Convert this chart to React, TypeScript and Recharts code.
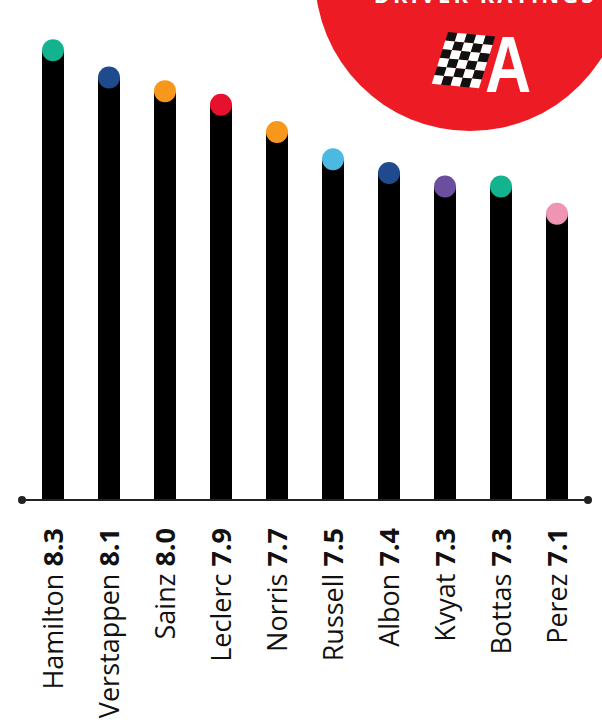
import React from "react";
import { BarChart, Bar, XAxis, YAxis } from "recharts";

const drivers = ["Hamilton", "Verstappen", "Sainz", "Leclerc", "Norris", "Russell", "Albon", "Kvyat", "Bottas", "Perez"];
const ratings = [8.3, 8.1, 8.0, 7.9, 7.7, 7.5, 7.4, 7.3, 7.3, 7.1];
const teamColors = ["#14b38f", "#1f4a8e", "#f7981d", "#e8112d", "#f7981d", "#4cb9e2", "#1f4a8e", "#6b4f9e", "#14b38f", "#f094b3"];

const data = drivers.map((name, i) => ({ name, rating: ratings[i], color: teamColors[i] }));

const W = 602;
const H = 724;
const BASE_Y = 500;

const Lollipop = (props: any) => {
  const { x, y, width, height, payload } = props;
  const cx = x + width / 2;
  const r = width / 2;
  const bottom = y + height;
  return (
    <g>
      <path
        d={`M${x},${y} L${x + width},${y} L${x + width},${bottom} A${r},${r} 0 0 1 ${x},${bottom} Z`}
        fill="#000"
      />
      <circle cx={cx} cy={y} r={r} fill={payload.color} />
    </g>
  );
};

const NameTick = (props: any) => {
  const { x, payload, index } = props;
  return (
    <g transform={`translate(${x},528)`}>
      <text
        transform="rotate(-90)"
        textAnchor="end"
        dy="0.36em"
        fontFamily="'Open Sans', sans-serif"
        fontSize={27}
        fill="#111"
      >
        {payload.value} <tspan fontWeight="bold">{ratings[index].toFixed(1)}</tspan>
      </text>
    </g>
  );
};

// checkered flag squares (col, row)
const flagCols = [0, 1, 2, 3, 4];
const flagRows = [0, 1, 2, 3, 4, 5];

const Badge = () => (
  <svg width={W} height={H} style={{ position: "absolute", left: 0, top: 0 }}>
    <circle cx={470} cy={-24} r={155} fill="#ed1c24" />
    <text x={485} y={3} textAnchor="middle" fill="#fff" fontFamily="'Open Sans', sans-serif" fontWeight="bold" fontSize={22} letterSpacing={3}>
      DRIVER RATINGS
    </text>
    <g transform="matrix(9.4 0.9 -2.7 8.6 448 32)">
      {flagRows.map((row) =>
        flagCols.map((col) => (
          <rect
            key={`${row}-${col}`}
            x={col}
            y={row}
            width={1.02}
            height={1.02}
            fill={(row + col) % 2 === 0 ? "#111" : "#fff"}
          />
        ))
      )}
    </g>
    <text
      transform="translate(508,92) scale(0.8,1)"
      textAnchor="middle"
      fill="#fff"
      fontFamily="'Liberation Sans', sans-serif"
      fontWeight="bold"
      fontSize={80}
    >
      A
    </text>
    <circle cx={22} cy={BASE_Y} r={4} fill="#222" />
    <circle cx={588} cy={BASE_Y} r={4} fill="#222" />
  </svg>
);

export default function App() {
  return (
    <div style={{ position: "absolute", left: 0, top: 0, width: W, height: H, background: "#fff" }}>
      <Badge />
      <div style={{ position: "absolute", left: 0, top: 0 }}>
        <BarChart width={W} height={H} data={data} margin={{ top: 23, right: 14, left: 22, bottom: 0 }} barSize={22}>
          <YAxis hide domain={[5, 8.5]} type="number" allowDataOverflow />
          <XAxis
            dataKey="name"
            interval={0}
            height={224}
            padding={{ left: 3, right: 3 }}
            axisLine={{ stroke: "#222", strokeWidth: 2 }}
            tickLine={false}
            tick={<NameTick />}
          />
          <Bar dataKey="rating" shape={<Lollipop />} isAnimationActive={false} />
        </BarChart>
      </div>
    </div>
  );
}
